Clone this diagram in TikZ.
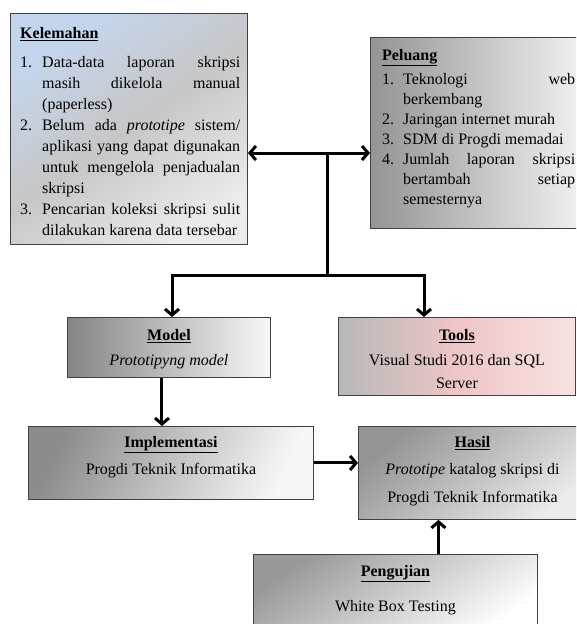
\documentclass[tikz,border=0pt]{standalone}
\usepackage{fontspec}
\setmainfont{Liberation Serif}
\usepackage{enumitem}
\usetikzlibrary{positioning,arrows.meta}
\definecolor{weakBlue}{RGB}{196,214,238}
\definecolor{toolsPink}{RGB}{238,198,198}
\definecolor{toolsLight}{RGB}{248,226,226}
\tikzset{
  box/.style={rectangle, draw=black!75, line width=0.9pt, inner sep=0pt, anchor=north west},
  boxText/.style={inner sep=0pt, font=\fontsize{16}{25}\selectfont, align=center, anchor=north},
  listText/.style={inner sep=0pt, align=justify, anchor=north west},
  weakShade/.style={top color=weakBlue, bottom color=black!8, middle color=black!22, shading angle=35},
  chanceShade/.style={left color=black!42, right color=black!4},
  modelShade/.style={left color=black!48, right color=black!3},
  toolsShade/.style={left color=black!28, right color=toolsLight, middle color=toolsPink},
  implShade/.style={top color=black!45, bottom color=black!3, shading angle=65},
  resultShade/.style={top color=black!42, bottom color=black!8, shading angle=40},
  testShade/.style={top color=black!40, bottom color=white, shading angle=35},
  barb/.tip={Straight Barb[length=6pt,width=14pt]},
  link/.style={line width=3pt},
  flow/.style={line width=3pt, -barb}
}
\newcommand{\heading}[1]{\underline{\textbf{#1}}}
\begin{document}
\begin{tikzpicture}[x=1pt, y=-1pt]
  \useasboundingbox (0,0) rectangle (576,624);
  \clip (0,0) rectangle (576,624);
  \fill[white] (0,0) rectangle (576,624);

  % boxes
  \node[box, weakShade, minimum width=237pt, minimum height=231pt] (kelemahan) at (10,13) {};
  \node[box, chanceShade, minimum width=220pt, minimum height=191pt] (peluang) at (370,37) {};
  \node[box, modelShade, minimum width=203pt, minimum height=60pt] (model) at (67,317) {};
  \node[box, toolsShade, minimum width=237pt, minimum height=78pt] (tools) at (338,317) {};
  \node[box, implShade, minimum width=285pt, minimum height=73pt] (implementasi) at (28,426) {};
  \node[box, resultShade, minimum width=228pt, minimum height=93pt] (hasil) at (358,426) {};
  \node[box, testShade, minimum width=284pt, minimum height=80pt] (pengujian) at (253,554) {};

  % texts
  \node[listText, text width=220pt, below right=14pt and 10pt of kelemahan.north west,
        font=\fontsize{16}{21}\selectfont] (kelemahanText) {\heading{Kelemahan}
    \begin{enumerate}[nosep, topsep=8pt, leftmargin=22pt, labelindent=0pt, labelwidth=16pt, labelsep=6pt, align=left]
      \item Data-data laporan skripsi\linebreak masih dikelola manual\linebreak (paperless)
      \item Belum ada \textit{prototipe} sistem/\linebreak aplikasi yang dapat digunakan\linebreak untuk mengelola penjadualan\linebreak skripsi
      \item Pencarian koleksi skripsi sulit\linebreak dilakukan karena data tersebar
    \end{enumerate}};
  \node[listText, text width=193pt, below right=12pt and 12pt of peluang.north west,
        font=\fontsize{16}{20}\selectfont] (peluangText) {\heading{Peluang}
    \begin{enumerate}[nosep, topsep=4pt, leftmargin=21pt, labelindent=0pt, labelwidth=15pt, labelsep=6pt, align=left]
      \item Teknologi web\linebreak berkembang
      \item Jaringan internet murah
      \item SDM di Progdi memadai
      \item Jumlah laporan skripsi\linebreak bertambah setiap\linebreak semesternya
    \end{enumerate}};
  \node[boxText, below=12pt of model.north] (modelText) {\heading{Model}\\\textit{Prototipyng model}};
  \node[boxText, below=12pt of tools.north] (toolsText) {\heading{Tools}\\Visual Studi 2016 dan SQL\\[-2pt]Server};
  \node[boxText, below=10pt of implementasi.north] (implText) {\heading{Implementasi}\\[2pt]Progdi Teknik Informatika};
  \node[boxText, below=10pt of hasil.north] (hasilText) {\heading{Hasil}\\[2pt]\textit{Prototipe} katalog skripsi di\\[3pt]Progdi Teknik Informatika};
  \node[boxText, below=11pt of pengujian.north] (pengujianText) {\heading{Pengujian}\\[10pt]White Box Testing};

  % connectors
  \coordinate (hub) at (327,153);
  \coordinate (fork) at (327,275);
  \coordinate (forkLeft) at (172,275);
  \coordinate (forkRight) at (424,275);
  \draw[link, barb-barb] (hub -| kelemahan.east) -- (hub -| peluang.west);
  \draw[link] (hub) -- (fork);
  \draw[link, barb-barb] (forkLeft |- model.north) -- (forkLeft) -- (forkRight) -- (forkRight |- tools.north);
  \draw[flow] ([xshift=-7pt]model.south) -- ([xshift=-7pt]model.south |- implementasi.north);
  \draw[flow] (implementasi.east) -- (implementasi.east -| hasil.west);
  \draw[flow] ([xshift=43pt]pengujian.north) -- ([xshift=43pt]pengujian.north |- hasil.south);
\end{tikzpicture}
\end{document}
